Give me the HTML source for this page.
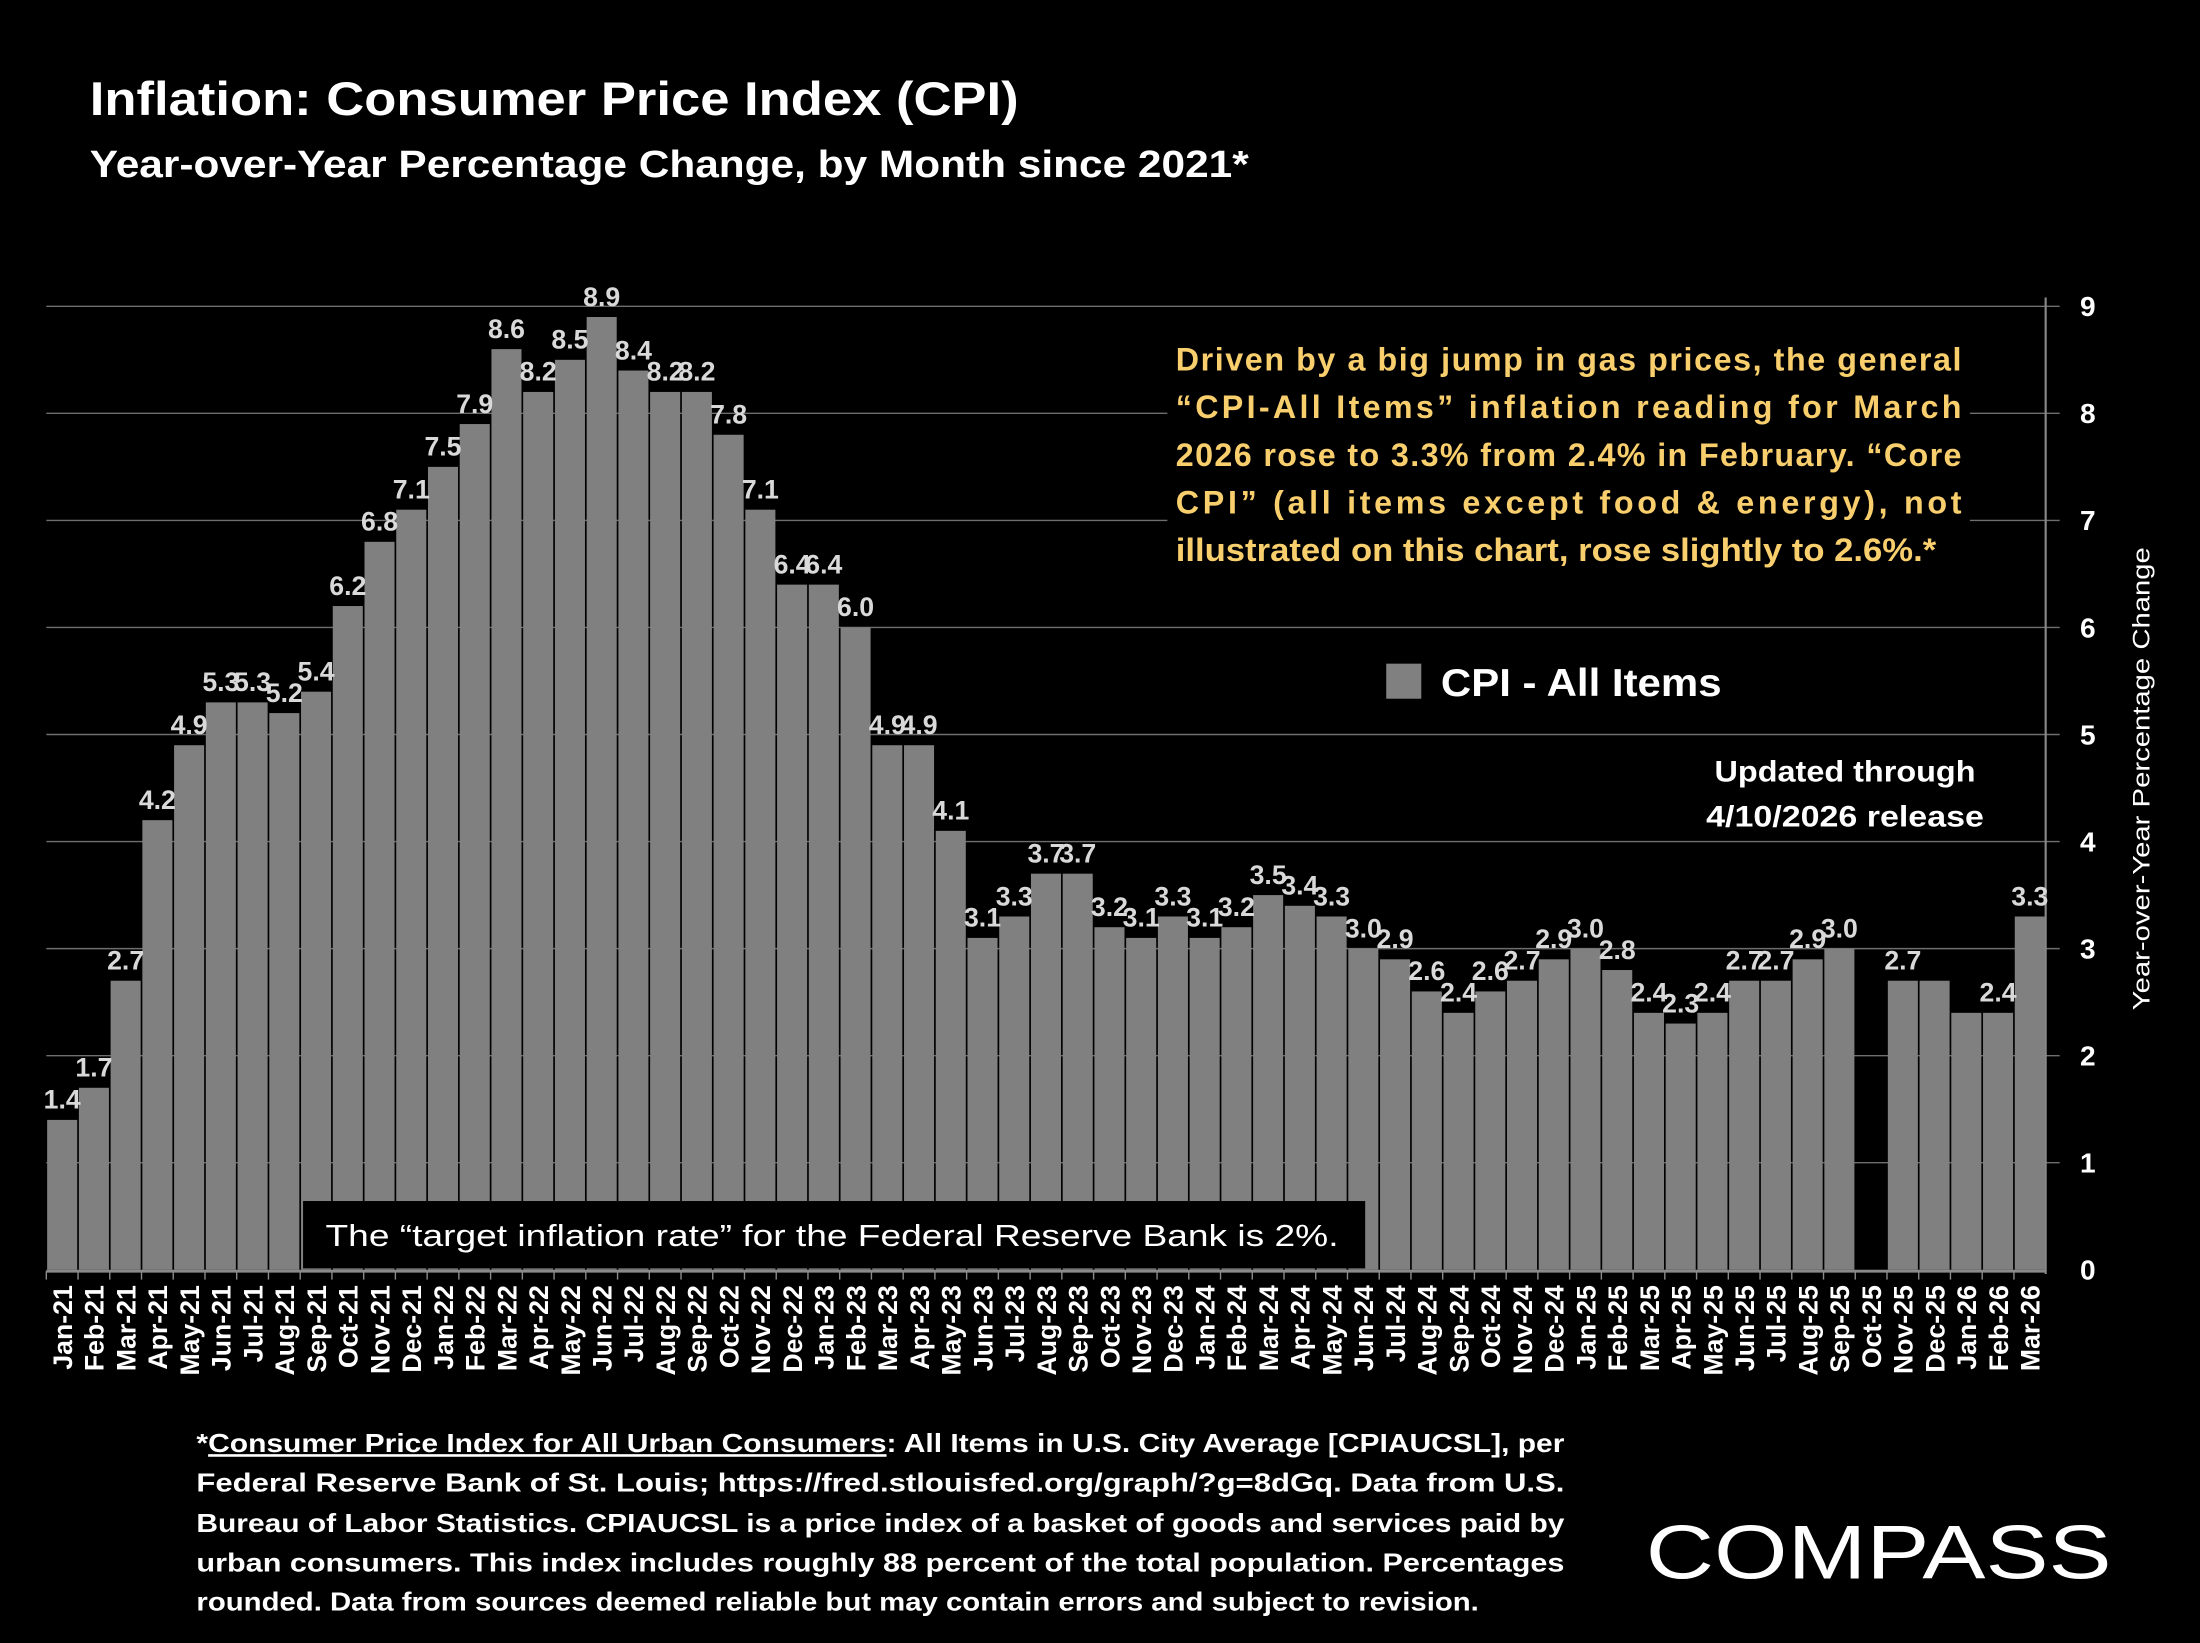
<!DOCTYPE html>
<html><head><meta charset="utf-8"><style>html,body{margin:0;padding:0;background:#000}svg{display:block}</style></head>
<body>
<svg xmlns="http://www.w3.org/2000/svg" width="2200" height="1643" viewBox="0 0 1568 1171" font-family="'Liberation Sans', sans-serif">
<rect width="1568" height="1171" fill="#000"/>
<text x="64" y="82" fill="#fff" font-size="34" font-weight="bold" textLength="662" lengthAdjust="spacingAndGlyphs">Inflation: Consumer Price Index (CPI)</text>
<text x="64" y="126" fill="#fff" font-size="27" font-weight="bold" textLength="826" lengthAdjust="spacingAndGlyphs">Year-over-Year Percentage Change, by Month since 2021*</text>
<g id="grid" stroke="#6e6e6e" stroke-width="1"></g>
<g id="bars"></g>
<line x1="1458" y1="212" x2="1458" y2="908" stroke="#8a8a8a" stroke-width="1.5"/>
<line x1="33" y1="906" x2="1458" y2="906" stroke="#8a8a8a" stroke-width="2"/>
<g id="yt" fill="#fff" font-size="20" font-weight="bold" text-anchor="middle"></g>
<text transform="translate(1532,555) rotate(-90)" fill="#fff" font-size="17" text-anchor="middle" textLength="330" lengthAdjust="spacingAndGlyphs">Year-over-Year Percentage Change</text>
<g id="xl" fill="#fff" font-size="19" font-weight="bold"></g>
<g id="lab" fill="#d9d9d9" font-size="19" font-weight="bold" text-anchor="middle"></g>
<rect x="216" y="856" width="757" height="48" fill="#000"/>
<text x="232" y="888" fill="#fff" font-size="22" textLength="722" lengthAdjust="spacingAndGlyphs">The “target inflation rate” for the Federal Reserve Bank is 2%.</text>
<rect x="832" y="238" width="572" height="172" fill="#000"/>
<g fill="#f9cf6e" font-size="23" font-weight="bold">
<text x="838" y="264" textLength="560">Driven by a big jump in gas prices, the general</text>
<text x="838" y="298" textLength="560">“CPI-All Items” inflation reading for March</text>
<text x="838" y="332" textLength="560">2026 rose to 3.3% from 2.4% in February. “Core</text>
<text x="838" y="366" textLength="560">CPI” (all items except food &amp; energy), not</text>
<text x="838" y="400" textLength="542" lengthAdjust="spacingAndGlyphs">illustrated on this chart, rose slightly to 2.6%.*</text>
</g>
<rect x="970" y="460" width="270" height="50" fill="#000"/>
<rect x="988" y="473" width="25" height="25" fill="#808080"/>
<text x="1027" y="496" fill="#fff" font-size="28" font-weight="bold" textLength="200" lengthAdjust="spacingAndGlyphs">CPI - All Items</text>
<rect x="1205" y="532" width="225" height="65" fill="#000"/>
<g fill="#fff" font-size="21" font-weight="bold" text-anchor="middle">
<text x="1315" y="557" textLength="186" lengthAdjust="spacingAndGlyphs">Updated through</text>
<text x="1315" y="589" textLength="198" lengthAdjust="spacingAndGlyphs">4/10/2026 release</text>
</g>
<g fill="#fff" font-size="18.5" font-weight="bold">
<text x="140" y="1035" textLength="975" lengthAdjust="spacingAndGlyphs">*<tspan text-decoration="underline">Consumer Price Index for All Urban Consumers</tspan>: All Items in U.S. City Average [CPIAUCSL], per</text>
<text x="140" y="1063" textLength="975" lengthAdjust="spacingAndGlyphs">Federal Reserve Bank of St. Louis; https://fred.stlouisfed.org/graph/?g=8dGq. Data from U.S.</text>
<text x="140" y="1092" textLength="975" lengthAdjust="spacingAndGlyphs">Bureau of Labor Statistics. CPIAUCSL is a price index of a basket of goods and services paid by</text>
<text x="140" y="1120" textLength="975" lengthAdjust="spacingAndGlyphs">urban consumers. This index includes roughly 88 percent of the total population. Percentages</text>
<text x="140" y="1148" textLength="914" lengthAdjust="spacingAndGlyphs">rounded. Data from sources deemed reliable but may contain errors and subject to revision.</text>
</g>
<text x="1173" y="1125" fill="#fff" font-size="54" textLength="332" lengthAdjust="spacingAndGlyphs">COMPASS</text>
<script>
var v=[1.4,1.7,2.7,4.2,4.9,5.3,5.3,5.2,5.4,6.2,6.8,7.1,7.5,7.9,8.6,8.2,8.5,8.9,8.4,8.2,8.2,7.8,7.1,6.4,6.4,6.0,4.9,4.9,4.1,3.1,3.3,3.7,3.7,3.2,3.1,3.3,3.1,3.2,3.5,3.4,3.3,3.0,2.9,2.6,2.4,2.6,2.7,2.9,3.0,2.8,2.4,2.3,2.4,2.7,2.7,2.9,3.0,null,2.7,2.7,2.4,2.4,3.3];
var mo=["Jan","Feb","Mar","Apr","May","Jun","Jul","Aug","Sep","Oct","Nov","Dec"];
var NS="http://www.w3.org/2000/svg",x0=33,x1=1458,y0=905,u=76.3,w=(x1-x0)/63;
function el(p,t,a,tx){var e=document.createElementNS(NS,t);for(var k in a)e.setAttribute(k,a[k]);if(tx!=null)e.textContent=tx;document.getElementById(p).appendChild(e);}
for(var i=1;i<=9;i++){var y=y0-i*u;el("grid","line",{x1:x0,y1:y,x2:x1+10,y2:y});}
for(var i=0;i<=9;i++){el("yt","text",{x:1488,y:y0-i*u+7},String(i));}
for(var i=0;i<63;i++){var cx=x0+w*(i+.5),m=mo[i%12]+"-"+(21+Math.floor(i/12));
el("xl","text",{transform:"translate("+(cx+7)+",916) rotate(-90)","text-anchor":"end"},m);
el("bars","line",{x1:x0+w*i,y1:906,x2:x0+w*i,y2:912,stroke:"#8a8a8a"});
if(v[i]==null)continue;var h=v[i]*u;
el("bars","rect",{x:x0+w*i+0.6,y:y0-h,width:w-1.2,height:h,fill:"#808080"});
if(i==59||i==60)continue;
el("lab","text",{x:cx,y:y0-h-8},v[i].toFixed(1));}
</script>
</svg>
</body></html>
